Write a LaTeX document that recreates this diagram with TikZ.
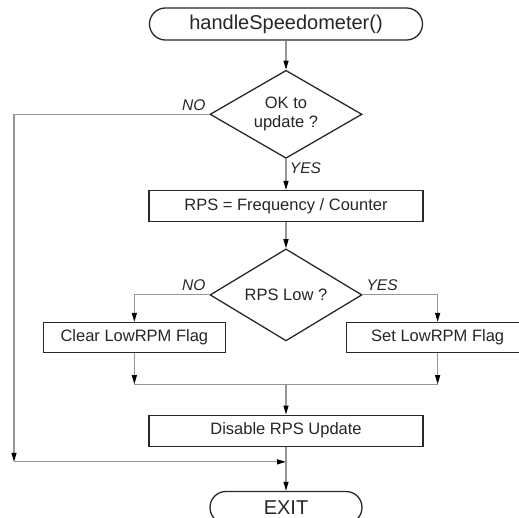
\documentclass[tikz,border=0pt]{standalone}
\usepackage{fontspec}
\setmainfont{Liberation Sans}
\usepackage{tikz}
\usetikzlibrary{arrows.meta,shapes.geometric,positioning,calc}
\definecolor{linegray}{RGB}{150,150,150}
\definecolor{boxline}{RGB}{40,40,40}

\begin{document}
\begin{tikzpicture}[
        node distance=30pt,
        term/.style={draw=boxline,line width=1.3pt,rounded corners=15.9pt,
                     minimum height=32pt,inner sep=0pt,
                     font=\fontsize{20}{22}\selectfont,text=black!85},
        box/.style={draw=boxline,line width=1.3pt,minimum width=274pt,
                    minimum height=31pt,inner sep=0pt,
                    font=\fontsize{16.5}{19}\selectfont,text=black!85},
        flag/.style={box,minimum width=182pt,minimum height=30pt},
        ask/.style={diamond,aspect=1.73,draw=boxline,line width=1.3pt,
                    minimum width=152pt,minimum height=88pt,inner sep=0pt,
                    align=center,font=\fontsize{16.5}{19}\selectfont,text=black!85},
        arr/.style={-{Triangle[black,length=9pt,width=5pt]},linegray,line width=1.2pt},
        line/.style={linegray,line width=1.2pt},
        lbl/.style={font=\fontsize{15.5}{18}\selectfont\itshape,text=black!85},
      ]
        \useasboundingbox (0,0) rectangle (519pt,-518pt);
        \node[term,minimum width=273pt] (st) at (286pt,-24pt) {handleSpeedometer()};
        \node[ask,below=29pt of st] (q1) {OK to\\update ?};
        \node[box,below=31pt of q1] (calc) {RPS = Frequency / Counter};
        \node[ask,below=26pt of calc,minimum height=92pt] (q2) {RPS Low ?};
        \node[flag,below=27pt of q2.west,xshift=-75pt] (clr) {Clear LowRPM Flag};
        \node[flag,below=27pt of q2.east,xshift=75pt] (set) {Set LowRPM Flag};
        \node[box,below=73pt of q2] (dis) {Disable RPS Update};
        \node[term,minimum width=152pt,below=44pt of dis] (ex) {EXIT};
        % junction points
        \coordinate[below=31pt of clr] (lm);
        \coordinate[below=31pt of set] (rm);
        \coordinate[below=15pt of dis] (jn);
        \coordinate[left=272pt of jn] (cn);
        \draw[arr](st)--(q1);
        \draw[arr](q1)--(calc)node[lbl,pos=0,below right]{YES};
        \draw[arr](q1.west)-|(cn)node[lbl,pos=0,above left]{NO};
        \draw[arr](cn)--(jn);
        \draw[arr](calc)--(q2);
        \draw[arr](q2.west)-|(clr)node[lbl,pos=0,above left]{NO};
        \draw[arr](q2.east)-|(set)node[lbl,pos=0,above right]{YES};
        \draw[arr](clr)--(lm);
        \draw[arr](set)--(rm);
        \draw[line](lm)--(rm);
        \draw[arr](lm-|dis)--(dis);
        \draw[arr](dis)--(ex);
      \end{tikzpicture}
\end{document}
